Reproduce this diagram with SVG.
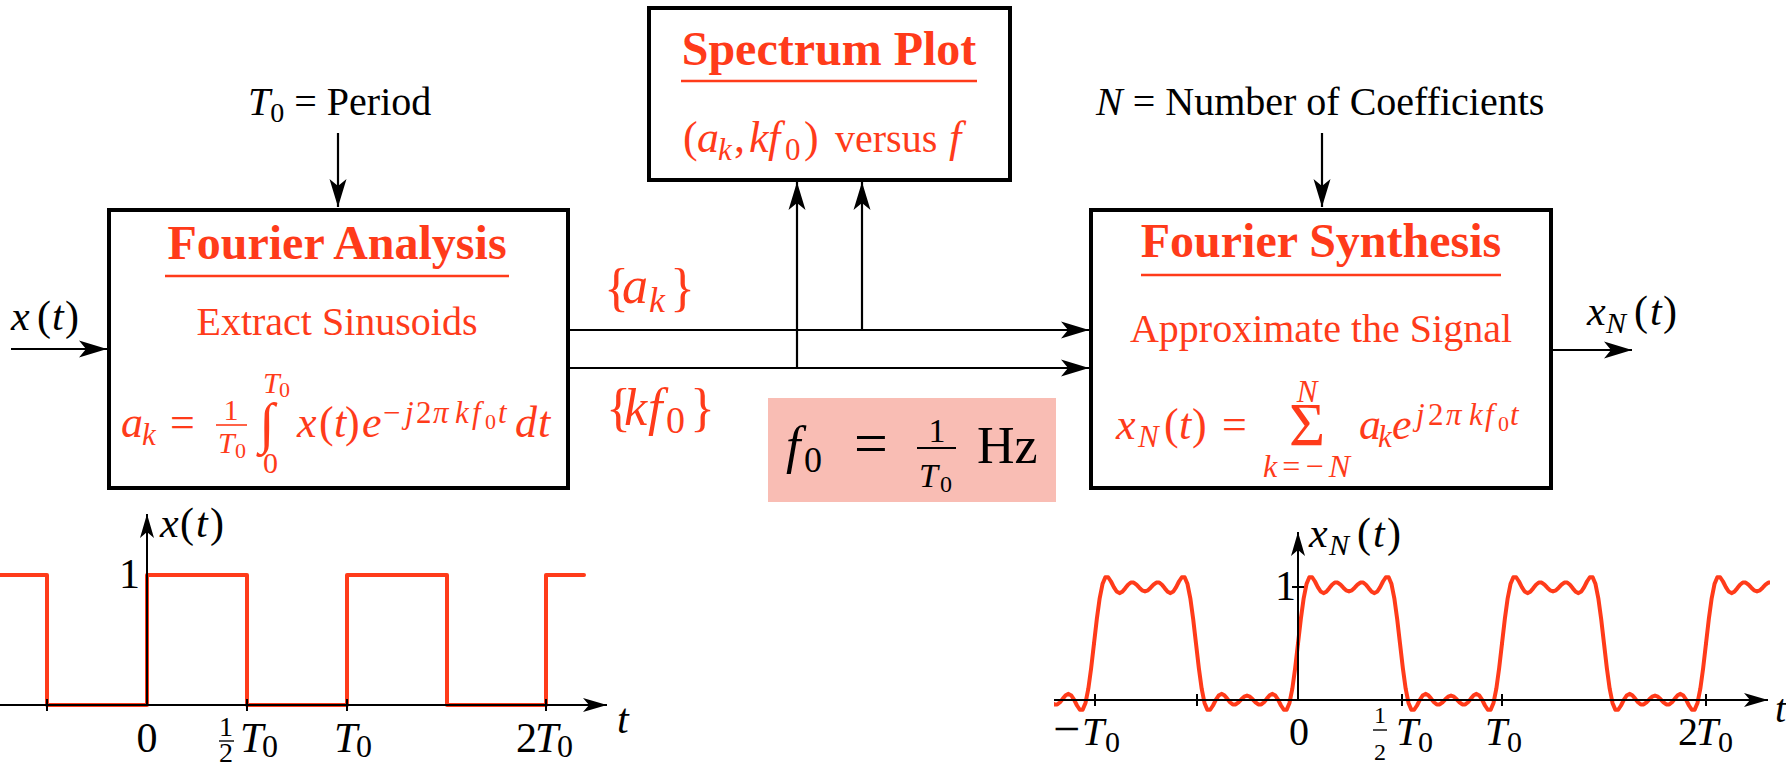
<svg xmlns="http://www.w3.org/2000/svg" width="1786" height="765" viewBox="0 0 1786 765">
<style>
text{font-family:"Liberation Serif","Times New Roman",serif;}
.i{font-style:italic}
.red{fill:#ff3b1a}
.ttl{font-weight:bold;font-size:48px;text-anchor:middle;fill:#ff3b1a}
.box{fill:#fff;stroke:#000;stroke-width:4}
.ul{stroke:#ff3b1a;stroke-width:2.5}
.conn{stroke:#000;stroke-width:2.2;fill:none}
.ax{stroke:#000;stroke-width:2;fill:none}
.wave{stroke:#ff3b1a;stroke-width:4;fill:none;stroke-linejoin:round;stroke-linecap:round}
.fr{stroke:#ff3b1a;stroke-width:1.6}
</style>
<defs>
<marker id="ah" viewBox="-28 -9 29 18" refX="0" refY="0" markerWidth="29" markerHeight="18" orient="auto" markerUnits="userSpaceOnUse"><path d="M0,0 L-28,-8.5 L-21,0 L-28,8.5 Z" fill="#000"/></marker>
<marker id="ah2" viewBox="-25 -8 26 16" refX="0" refY="0" markerWidth="26" markerHeight="16" orient="auto" markerUnits="userSpaceOnUse"><path d="M0,0 L-24,-7 L-18,0 L-24,7 Z" fill="#000"/></marker>
<path id="wave" class="wave" d="M0,-56.5 L2.83,-80.95 5.67,-101.66 8.5,-115.9 11.33,-122.65 14.17,-122.75 17,-118.5 19.83,-112.86 22.67,-108.47 25.5,-106.88 28.33,-108.29 31.17,-111.64 34,-115.24 36.83,-117.48 39.67,-117.48 42.5,-115.41 45.33,-112.31 48.17,-109.62 51,-108.57 53.83,-109.62 56.67,-112.31 59.5,-115.41 62.33,-117.48 65.17,-117.48 68,-115.24 70.83,-111.64 73.67,-108.29 76.5,-106.88 79.33,-108.47 82.17,-112.86 85,-118.5 87.83,-122.75 90.67,-122.65 93.5,-115.9 96.33,-101.66 99.17,-80.95 102,-56.5 104.83,-32.05 107.67,-11.34 110.5,2.9 113.33,9.65 116.17,9.75 119,5.5 121.83,-0.14 124.67,-4.53 127.5,-6.12 130.33,-4.71 133.17,-1.36 136,2.24 138.83,4.48 141.67,4.48 144.5,2.41 147.33,-0.69 150.17,-3.38 153,-4.43 155.83,-3.38 158.67,-0.69 161.5,2.41 164.33,4.48 167.17,4.48 170,2.24 172.83,-1.36 175.67,-4.71 178.5,-6.12 181.33,-4.53 184.17,-0.14 187,5.5 189.83,9.75 192.67,9.65 195.5,2.9 198.33,-11.34 201.17,-32.05 204,-56.5"/>
<clipPath id="clipR"><rect x="1054" y="500" width="716" height="265"/></clipPath>
</defs>

<g id="connectors">
<path class="conn" d="M338,133 V207" marker-end="url(#ah)"/>
<path class="conn" d="M1322,133 V207" marker-end="url(#ah)"/>
<path class="conn" d="M11,349 H107" marker-end="url(#ah)"/>
<path class="conn" d="M568,330 H1089" marker-end="url(#ah)"/>
<path class="conn" d="M568,368 H1089" marker-end="url(#ah)"/>
<path class="conn" d="M797,368 V182" marker-end="url(#ah)"/>
<path class="conn" d="M862,330 V182" marker-end="url(#ah)"/>
<path class="conn" d="M1553,350 H1632" marker-end="url(#ah)"/>
</g>

<g id="input-labels">
<text x="248" y="115" font-size="40"><tspan class="i">T</tspan><tspan font-size="28" dy="7">0</tspan><tspan dy="-7"> = Period</tspan></text>
<text x="1096" y="115" font-size="40"><tspan class="i">N</tspan> = Number of Coefficients</text>
<g font-size="42">
<text x="11" y="330" class="i">x</text><text x="37" y="330">(</text><text x="52" y="330" class="i">t</text><text x="65" y="330">)</text>
<text x="1587" y="325" class="i">x</text><text x="1606" y="333" class="i" font-size="30">N</text><text x="1634" y="325">(</text><text x="1650" y="325" class="i">t</text><text x="1663" y="325">)</text>
</g>
</g>

<g id="fourier-analysis">
<rect class="box" x="109" y="210" width="459" height="278"/>
<text class="ttl" x="337" y="259">Fourier Analysis</text>
<line class="ul" x1="165" y1="276" x2="509" y2="276"/>
<text class="red" x="337" y="335" font-size="40" text-anchor="middle">Extract Sinusoids</text>
<g class="red" font-size="44">
<text x="121" y="437" class="i">a</text>
<text x="142" y="445" class="i" font-size="31">k</text>
<text x="170" y="437">=</text>
<text x="231" y="420" font-size="30" text-anchor="middle">1</text>
<line class="fr" x1="216" y1="425" x2="247" y2="425"/>
<text x="218" y="453" class="i" font-size="30">T</text>
<text x="235" y="458" font-size="22">0</text>
<text x="259" y="442" font-size="56">∫</text>
<text x="263" y="393" class="i" font-size="30">T</text>
<text x="279" y="397" font-size="22">0</text>
<text x="263" y="473" font-size="30">0</text>
<text x="297" y="437" class="i">x</text>
<text x="319" y="437">(</text>
<text x="334" y="437" class="i">t</text>
<text x="345" y="437">)</text>
<text x="362" y="437" class="i">e</text>
<text y="423" font-size="31"><tspan x="383">−</tspan><tspan x="405" class="i">j</tspan><tspan x="416">2</tspan><tspan x="433" class="i">π</tspan><tspan x="455" class="i">k</tspan><tspan x="472" class="i">f</tspan><tspan x="485" y="429" font-size="22">0</tspan><tspan x="498" y="423" class="i">t</tspan></text>
<text x="515" y="437" class="i">d</text>
<text x="538" y="437" class="i">t</text>
</g>
</g>

<g id="spectrum-plot">
<rect class="box" x="649" y="8" width="361" height="172"/>
<text class="ttl" x="829" y="65">Spectrum Plot</text>
<line class="ul" x1="681" y1="81" x2="977" y2="81"/>
<text class="red" font-size="44"><tspan x="683" y="152">(</tspan><tspan x="697" y="152" class="i">a</tspan><tspan x="718" y="160" class="i" font-size="31">k</tspan><tspan x="734" y="152">,</tspan><tspan x="749" y="152" class="i">k</tspan><tspan x="768" y="152" class="i">f</tspan><tspan x="785" y="160" font-size="31">0</tspan><tspan x="804" y="152">)</tspan><tspan x="835" y="152" font-size="40">versus</tspan><tspan x="949" y="152" class="i">f</tspan></text>
</g>

<g id="fourier-synthesis">
<rect class="box" x="1091" y="210" width="460" height="278"/>
<text class="ttl" x="1321" y="257">Fourier Synthesis</text>
<line class="ul" x1="1141" y1="275" x2="1501" y2="275"/>
<text class="red" x="1321" y="342" font-size="40" text-anchor="middle">Approximate the Signal</text>
<g class="red" font-size="44">
<text x="1116" y="439" class="i">x</text>
<text x="1138" y="447" class="i" font-size="31">N</text>
<text x="1164" y="439">(</text>
<text x="1179" y="439" class="i">t</text>
<text x="1192" y="439">)</text>
<text x="1222" y="439">=</text>
<text x="1307" y="445" font-size="62" text-anchor="middle">Σ</text>
<text x="1307" y="402" class="i" font-size="31" text-anchor="middle">N</text>
<text x="1263" y="477" font-size="32" textLength="87" lengthAdjust="spacing"><tspan class="i">k</tspan>=−<tspan class="i">N</tspan></text>
<text x="1359" y="439" class="i">a</text>
<text x="1378" y="447" class="i" font-size="31">k</text>
<text x="1392" y="439" class="i">e</text>
<text y="425" font-size="31"><tspan x="1416" class="i">j</tspan><tspan x="1428">2</tspan><tspan x="1446" class="i">π</tspan><tspan x="1469" class="i">k</tspan><tspan x="1485" class="i">f</tspan><tspan x="1498" y="431" font-size="22">0</tspan><tspan x="1510" y="425" class="i">t</tspan></text>
</g>
</g>

<g id="coefficient-labels" class="red">
<text x="604" y="305" font-size="52">{</text>
<text x="622" y="303" font-size="52" class="i">a</text>
<text x="649" y="312" font-size="36" class="i">k</text>
<text x="670" y="305" font-size="52">}</text>
<text x="606" y="425" font-size="52">{</text>
<text x="624" y="425" font-size="52" class="i">k</text>
<text x="648" y="425" font-size="52" class="i">f</text>
<text x="666" y="433" font-size="38">0</text>
<text x="690" y="425" font-size="52">}</text>
</g>

<g id="f0-note">
<rect x="768" y="398" width="288" height="104" fill="#f9bdb4"/>
<text x="786" y="463" class="i" font-size="52">f</text>
<text x="804" y="472" font-size="36">0</text>
<text x="854" y="463" font-size="60">=</text>
<text x="937" y="442" font-size="34" text-anchor="middle">1</text>
<line x1="917" y1="448" x2="956" y2="448" stroke="#000" stroke-width="1.8"/>
<text x="919" y="487" class="i" font-size="34">T</text>
<text x="940" y="492" font-size="24">0</text>
<text x="977" y="463" font-size="52">Hz</text>
</g>

<g id="plot-x">
<path class="wave" stroke-linecap="butt" d="M0,575 H47 V705 H147 V575 H247 V705 H347 V575 H447 V705 H546 V575 H584"/>
<path class="ax" d="M0,705 H607" marker-end="url(#ah2)"/>
<path class="ax" d="M147,705 V514" marker-end="url(#ah2)"/>
<path class="ax" d="M47,699 V711 M247,699 V711 M347,699 V711 M546,699 V711"/>
<g font-size="42">
<text x="160" y="537" class="i">x</text><text x="180" y="537">(</text><text x="196" y="537" class="i">t</text><text x="210" y="537">)</text>
<text x="140" y="588" text-anchor="end">1</text>
<text x="147" y="752" text-anchor="middle">0</text>
<text x="226" y="736" font-size="28" text-anchor="middle">1</text>
<line x1="219" y1="741" x2="234" y2="741" stroke="#000" stroke-width="1.4"/>
<text x="226" y="762" font-size="28" text-anchor="middle">2</text>
<text x="240" y="752" class="i">T</text><text x="262" y="757" font-size="32">0</text>
<text x="334" y="752" class="i">T</text><text x="356" y="757" font-size="32">0</text>
<text x="516" y="752">2</text><text x="535" y="752" class="i">T</text><text x="557" y="757" font-size="32">0</text>
<text x="617" y="733" class="i">t</text>
</g>
</g>

<g id="plot-xN">
<g clip-path="url(#clipR)">
<use href="#wave" x="890" y="700"/>
<use href="#wave" x="1094" y="700"/>
<use href="#wave" x="1298" y="700"/>
<use href="#wave" x="1502" y="700"/>
<use href="#wave" x="1706" y="700"/>
</g>
<path class="ax" d="M1054,700 H1768" marker-end="url(#ah2)"/>
<path class="ax" d="M1298,700 V532" marker-end="url(#ah2)"/>
<path class="ax" d="M1095,694 V706 M1197,694 V706 M1402,694 V706 M1502,694 V706 M1706,694 V706 M1292,587 H1304"/>
<g font-size="40">
<text x="1309" y="547" class="i" font-size="42">x</text><text x="1329" y="555" class="i" font-size="30">N</text><text x="1357" y="547" font-size="42">(</text><text x="1373" y="547" class="i" font-size="42">t</text><text x="1387" y="547" font-size="42">)</text>
<text x="1296" y="600" text-anchor="end" font-size="42">1</text>
<text x="1053" y="745" font-size="48">−</text><text x="1082" y="745" class="i">T</text><text x="1105" y="752" font-size="30">0</text>
<text x="1299" y="745" text-anchor="middle">0</text>
<text x="1380" y="723" font-size="24" text-anchor="middle">1</text>
<line x1="1373" y1="730" x2="1387" y2="730" stroke="#000" stroke-width="1.4"/>
<text x="1380" y="760" font-size="24" text-anchor="middle">2</text>
<text x="1396" y="745" class="i">T</text><text x="1418" y="752" font-size="30">0</text>
<text x="1485" y="745" class="i">T</text><text x="1507" y="752" font-size="30">0</text>
<text x="1678" y="745">2</text><text x="1696" y="745" class="i">T</text><text x="1718" y="752" font-size="30">0</text>
<text x="1775" y="722" class="i">t</text>
</g>
</g>
</svg>
